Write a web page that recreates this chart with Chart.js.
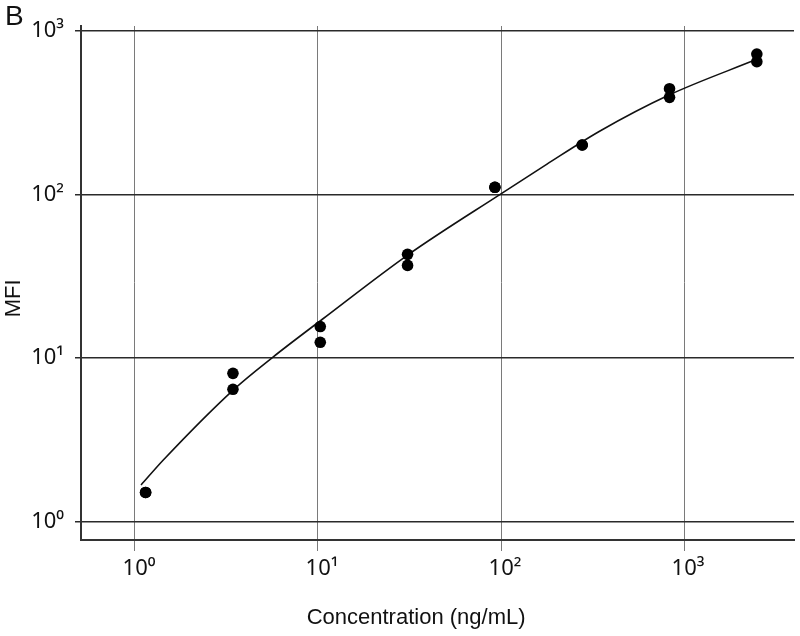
<!DOCTYPE html>
<html>
<head>
<meta charset="utf-8">
<script src="https://cdn.jsdelivr.net/npm/chart.js@4.4.0/dist/chart.umd.min.js"></script>
<style>
  html, body { margin: 0; padding: 0; background: #ffffff; }
  #wrap { width: 800px; height: 636px; }
</style>
</head>
<body>
<div id="wrap"><canvas id="c" width="800" height="636"></canvas></div>
<script>
// ---- data ----
const panelLabel = 'B';
const xTitle = 'Concentration (ng/mL)';
const yTitle = 'MFI';

const concentrations = [1.143, 3.43, 10.29, 30.86, 92.59, 277.8, 833.3, 2500];
const mfiReplicate1 = [1.51, 8.07, 15.6, 43.1, 110.8, 201, 444, 723];
const mfiReplicate2 = [1.51, 6.45, 12.5, 36.9, 110.8, 201, 393, 649];

const curveConc = [1.079, 1.428, 3.475, 5.655, 10.52, 31.3, 100.9, 177.5, 347.5, 828, 2495];
const curveMfi  = [1.677, 2.384, 6.45, 10.12, 17.23, 43.14, 101.8, 153, 244.7, 406, 671];

const xTickValues = [1, 10, 100, 1000];
const yTickValues = [1, 10, 100, 1000];
const tickLabels = { 1: '10\u2070', 10: '10\u00B9', 100: '10\u00B2', 1000: '10\u00B3' };

// ---- build datasets ----
const pointData = [];
concentrations.forEach((c, i) => {
  pointData.push({ x: c, y: mfiReplicate1[i] });
  pointData.push({ x: c, y: mfiReplicate2[i] });
});
const curveData = curveConc.map((c, i) => ({ x: c, y: curveMfi[i] }));

const FONT = "'Liberation Sans', Arial, Helvetica, sans-serif";
const TICKFONT = "'Noto Sans', 'Liberation Sans', sans-serif";

const whiteBg = {
  id: 'whiteBg',
  beforeDraw(chart) {
    const ctx = chart.ctx;
    ctx.save();
    ctx.fillStyle = '#ffffff';
    ctx.fillRect(0, 0, chart.width, chart.height);
    ctx.restore();
  }
};

new Chart(document.getElementById('c'), {
  type: 'scatter',
  data: {
    datasets: [
      {
        label: 'Fitted curve',
        data: curveData,
        showLine: true,
        borderColor: '#111111',
        borderWidth: 1.6,
        pointRadius: 0,
        pointHoverRadius: 0,
        cubicInterpolationMode: 'monotone',
        fill: false,
        order: 2
      },
      {
        label: 'MFI',
        data: pointData,
        showLine: false,
        backgroundColor: '#000000',
        borderColor: '#000000',
        borderWidth: 0,
        pointRadius: 5.8,
        order: 1
      }
    ]
  },
  options: {
    responsive: false,
    animation: false,
    devicePixelRatio: 1,
    layout: { padding: { left: 5, right: 6, top: 0, bottom: 0 } },
    plugins: {
      legend: { display: false },
      tooltip: { enabled: false },
      title: {
        display: true,
        text: panelLabel,
        align: 'start',
        position: 'top',
        color: '#111111',
        font: { family: FONT, size: 28, weight: 'normal', lineHeight: 1 },
        padding: { top: 3, bottom: -5 }
      }
    },
    scales: {
      x: {
        type: 'logarithmic',
        position: 'bottom',
        min: 0.507,
        max: 3990,
        afterBuildTicks: (s) => { s.ticks = xTickValues.map(v => ({ value: v })); },
        afterFit: (s) => { s.height = 96; },
        ticks: {
          autoSkip: false,
          maxRotation: 0,
          padding: 5,
          labelOffset: 4,
          color: '#111111',
          font: { family: TICKFONT, size: 22 },
          callback: (v) => tickLabels[v] || ''
        },
        grid: {
          display: true,
          color: '#7a7a7a',
          lineWidth: 1,
          drawTicks: true,
          tickLength: 11
        },
        border: { display: true, color: '#333333', width: 2 },
        title: {
          display: true,
          text: xTitle + '       ',
          color: '#111111',
          font: { family: FONT, size: 22 },
          padding: { top: 0, bottom: 5 }
        }
      },
      y: {
        type: 'logarithmic',
        position: 'left',
        min: 0.773,
        max: 1073,
        afterBuildTicks: (s) => { s.ticks = yTickValues.map(v => ({ value: v })); },
        afterFit: (s) => { s.width = 76; },
        ticks: {
          autoSkip: false,
          padding: 11,
          color: '#111111',
          font: { family: TICKFONT, size: 22 },
          callback: (v) => tickLabels[v] || ''
        },
        grid: {
          display: true,
          color: '#2a2a2a',
          lineWidth: 1.5,
          drawTicks: true,
          tickLength: 6
        },
        border: { display: true, color: '#333333', width: 2 },
        title: {
          display: true,
          text: yTitle + '     ',
          color: '#111111',
          font: { family: FONT, size: 22, lineHeight: 1 },
          padding: { top: -2, bottom: 0 }
        }
      }
    }
  },
  plugins: [whiteBg]
});
</script>
</body>
</html>
